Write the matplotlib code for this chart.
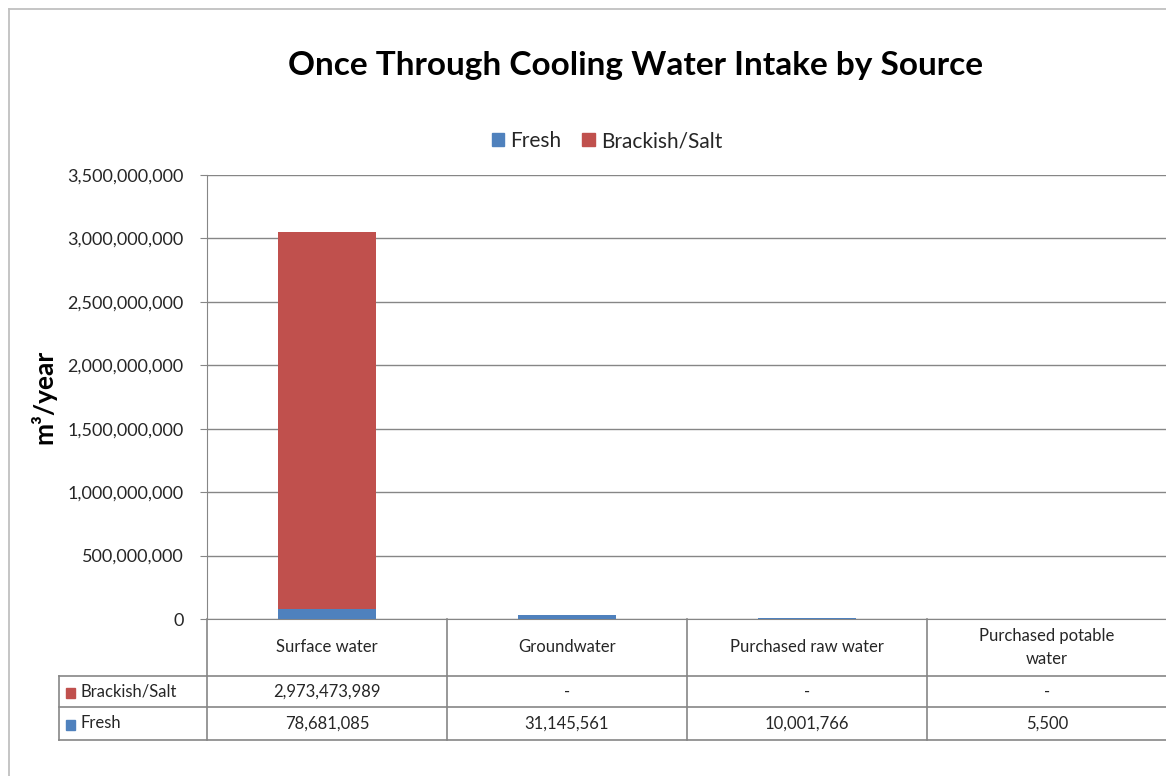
import numpy as np
import matplotlib
matplotlib.use("Agg")
import matplotlib.pyplot as plt
from matplotlib.lines import Line2D
from matplotlib.patches import Rectangle

plt.rcParams["font.family"] = ["Lato", "DejaVu Sans"]

# data
categories = ["Surface water", "Groundwater", "Purchased raw water", "Purchased potable\nwater"]
fresh = [78681085, 31145561, 10001766, 5500]
brackish = [2973473989, 0, 0, 0]
series_names = ["Fresh", "Brackish/Salt"]
yticks = np.arange(0, 3.5e9 + 1, 5e8)

BLUE = "#4f81bd"
RED = "#c0504d"
GRID = "#868686"
TXT = "#262626"

W, H = 1166, 776
fig = plt.figure(figsize=(W / 100, H / 100), dpi=100)

def fx(px):
    return px / W

def fy(py):
    return 1 - py / H

# outer chart border (right/bottom edges fall outside the picture, as in the source)
fig.add_artist(Line2D([fx(9), fx(9)], [fy(9), 0], transform=fig.transFigure, color="#c0c0c0", lw=1.3))
fig.add_artist(Line2D([fx(9), 1], [fy(9), fy(9)], transform=fig.transFigure, color="#c0c0c0", lw=1.3))

# plot area runs slightly past the right edge of the image
left, right, top, bottom = 207, 1167, 175, 619
ax = fig.add_axes([fx(left), fy(bottom), fx(right) - fx(left), fy(top) - fy(bottom)])

x = np.arange(len(categories))
ax.bar(x, fresh, width=0.41, color=BLUE, zorder=3)
ax.bar(x, brackish, bottom=fresh, width=0.41, color=RED, zorder=3)
ax.set_xlim(-0.5, len(categories) - 0.5)
ax.set_ylim(0, 3.5e9)
ax.set_yticks(yticks)
ax.set_yticklabels([f"{int(v):,}" for v in yticks], fontsize=13, color=TXT)
ax.set_xticks([])
ax.grid(axis="y", color=GRID, lw=1, zorder=0)
for s in ["top", "right"]:
    ax.spines[s].set_visible(False)
ax.spines["left"].set_color(GRID)
ax.spines["bottom"].set_color(GRID)
ax.tick_params(axis="y", length=5, color=GRID, pad=12)
ax.set_ylabel("m³/year", fontsize=19, fontweight="bold", labelpad=8, color="black")

fig.text(fx(635), fy(66), "Once Through Cooling Water Intake by Source",
         ha="center", va="center", fontsize=24, fontweight="bold")

handles = [Rectangle((0, 0), 1, 1, color=BLUE), Rectangle((0, 0), 1, 1, color=RED)]
fig.legend(handles, series_names, loc="center", bbox_to_anchor=(fx(607), fy(141)),
           ncol=2, frameon=False, fontsize=15, handlelength=0.6, handleheight=0.6,
           columnspacing=1.0, handletextpad=0.3, labelcolor=TXT)

# data table below the axis
row_y = [619, 676, 707, 740]
label_x = 59
col_w = (right - left) / len(categories)
col_x = [left + i * col_w for i in range(len(categories) + 1)]

def hline(xa, xb, y):
    fig.add_artist(Line2D([fx(xa), fx(xb)], [fy(y), fy(y)], transform=fig.transFigure,
                          color=GRID, lw=1.2))

def vline(xp, ya, yb):
    fig.add_artist(Line2D([fx(xp), fx(xp)], [fy(ya), fy(yb)], transform=fig.transFigure,
                          color=GRID, lw=1.2))

for y in row_y[1:]:
    hline(label_x, right, y)
for xp in col_x:
    vline(xp, row_y[0], row_y[-1])
vline(label_x, row_y[1], row_y[-1])

for i, c in enumerate(categories):
    cx = (col_x[i] + col_x[i + 1]) / 2
    fig.text(fx(cx), fy((row_y[0] + row_y[1]) / 2), c, ha="center", va="center",
             fontsize=12, linespacing=1.5, color=TXT)

rows = [("Brackish/Salt", brackish, RED), ("Fresh", fresh, BLUE)]
for r, (name, vals, col) in enumerate(rows):
    yc = (row_y[r + 1] + row_y[r + 2]) / 2
    fig.add_artist(Rectangle((fx(66), fy(yc + 6)), fx(9), fy(yc - 4) - fy(yc + 6),
                             transform=fig.transFigure, color=col))
    fig.text(fx(80), fy(yc), name, ha="left", va="center", fontsize=12, color=TXT)
    for i, v in enumerate(vals):
        cx = (col_x[i] + col_x[i + 1]) / 2
        fig.text(fx(cx), fy(yc), f"{v:,}" if v else "-", ha="center", va="center",
                 fontsize=12, color=TXT)

fig.savefig("out.png", dpi=100)
